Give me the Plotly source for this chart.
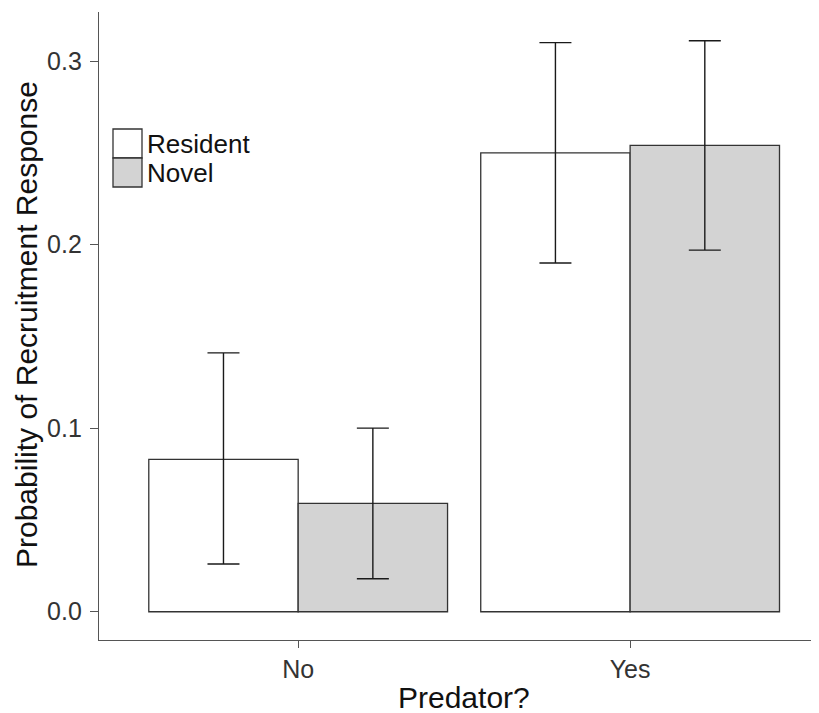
import plotly.graph_objects as go

predator = ["No", "Yes"]
groups = ["Resident", "Novel"]
resident_mean = [0.083, 0.250]
resident_upper = [0.141, 0.310]
resident_lower = [0.026, 0.190]
novel_mean = [0.059, 0.254]
novel_upper = [0.100, 0.311]
novel_lower = [0.018, 0.197]
fills = {"Resident": "#ffffff", "Novel": "#d3d3d3"}
yticks = [0.0, 0.1, 0.2, 0.3]

# page body has an 8px margin; compensate so the plot lands where the reference has it
OFF = 8
W, H = 819 - OFF, 713 - OFF
ML, MR, MT, MB = 99 - OFF, 0, 12 - OFF, 73
PW, PH = W - ML - MR, H - MT - MB
FONT = "Liberation Sans, Arial, Helvetica, sans-serif"

fig = go.Figure()
for name, mean, up, lo in [("Resident", resident_mean, resident_upper, resident_lower),
                           ("Novel", novel_mean, novel_upper, novel_lower)]:
    fig.add_trace(go.Bar(
        name=name, x=predator, y=mean,
        marker=dict(color=fills[name], line=dict(color="#333333", width=1.3)),
        error_y=dict(type="data", symmetric=False,
                     array=[u - m for u, m in zip(up, mean)],
                     arrayminus=[m - l for m, l in zip(mean, lo)],
                     color="#1a1a1a", thickness=1.4, width=16),
        showlegend=False,
    ))


def px_x(p):  # reference page pixel -> paper coord
    return (p - OFF - ML) / PW


def px_y(p):
    return 1 - (p - OFF - MT) / PH


shapes = []
annotations = []
key_rows = [(129, 158), (158, 187)]
for name, (y0, y1) in zip(groups, key_rows):
    shapes.append(dict(type="rect", xref="paper", yref="paper",
                       x0=px_x(113), x1=px_x(142), y0=px_y(y1), y1=px_y(y0),
                       fillcolor=fills[name], line=dict(color="#333333", width=1.3)))
    annotations.append(dict(xref="paper", yref="paper", x=px_x(145), y=px_y((y0 + y1) / 2),
                            text=name, showarrow=False, xanchor="left", yanchor="middle",
                            font=dict(size=26, color="#111111", family=FONT)))

annotations.append(dict(xref="paper", yref="paper", x=px_x(464), y=px_y(697),
                        text="Predator?", showarrow=False, xanchor="center", yanchor="middle",
                        font=dict(size=30, color="#111111", family=FONT)))
annotations.append(dict(xref="paper", yref="paper", x=px_x(27), y=px_y(325),
                        text="Probability of Recruitment Response", showarrow=False,
                        textangle=-90, xanchor="center", yanchor="middle",
                        font=dict(size=30, color="#111111", family=FONT)))

fig.update_layout(
    width=W, height=H,
    margin=dict(l=ML, r=MR, t=MT, b=MB, pad=0),
    paper_bgcolor="white", plot_bgcolor="white",
    barmode="group", bargap=0.1, bargroupgap=0,
    font=dict(family=FONT, size=25, color="#333333"),
    shapes=shapes, annotations=annotations,
    xaxis=dict(type="category", range=[-0.6, 1.569], showgrid=False, zeroline=False,
               showline=True, linecolor="#555555", linewidth=1.3,
               ticks="outside", ticklen=7, tickcolor="#555555", tickwidth=1.2,
               ticklabelstandoff=0,
               tickfont=dict(size=25, color="#333333", family=FONT)),
    yaxis=dict(range=[-0.0154, 0.3267], showgrid=False, zeroline=False,
               showline=True, linecolor="#555555", linewidth=1.3,
               ticks="outside", ticklen=8, tickcolor="#555555", tickwidth=1.2,
               ticklabelstandoff=3,
               tickvals=yticks, ticktext=[f"{v:.1f}" for v in yticks],
               tickfont=dict(size=25, color="#333333", family=FONT)),
)

fig.write_html("out.html")
